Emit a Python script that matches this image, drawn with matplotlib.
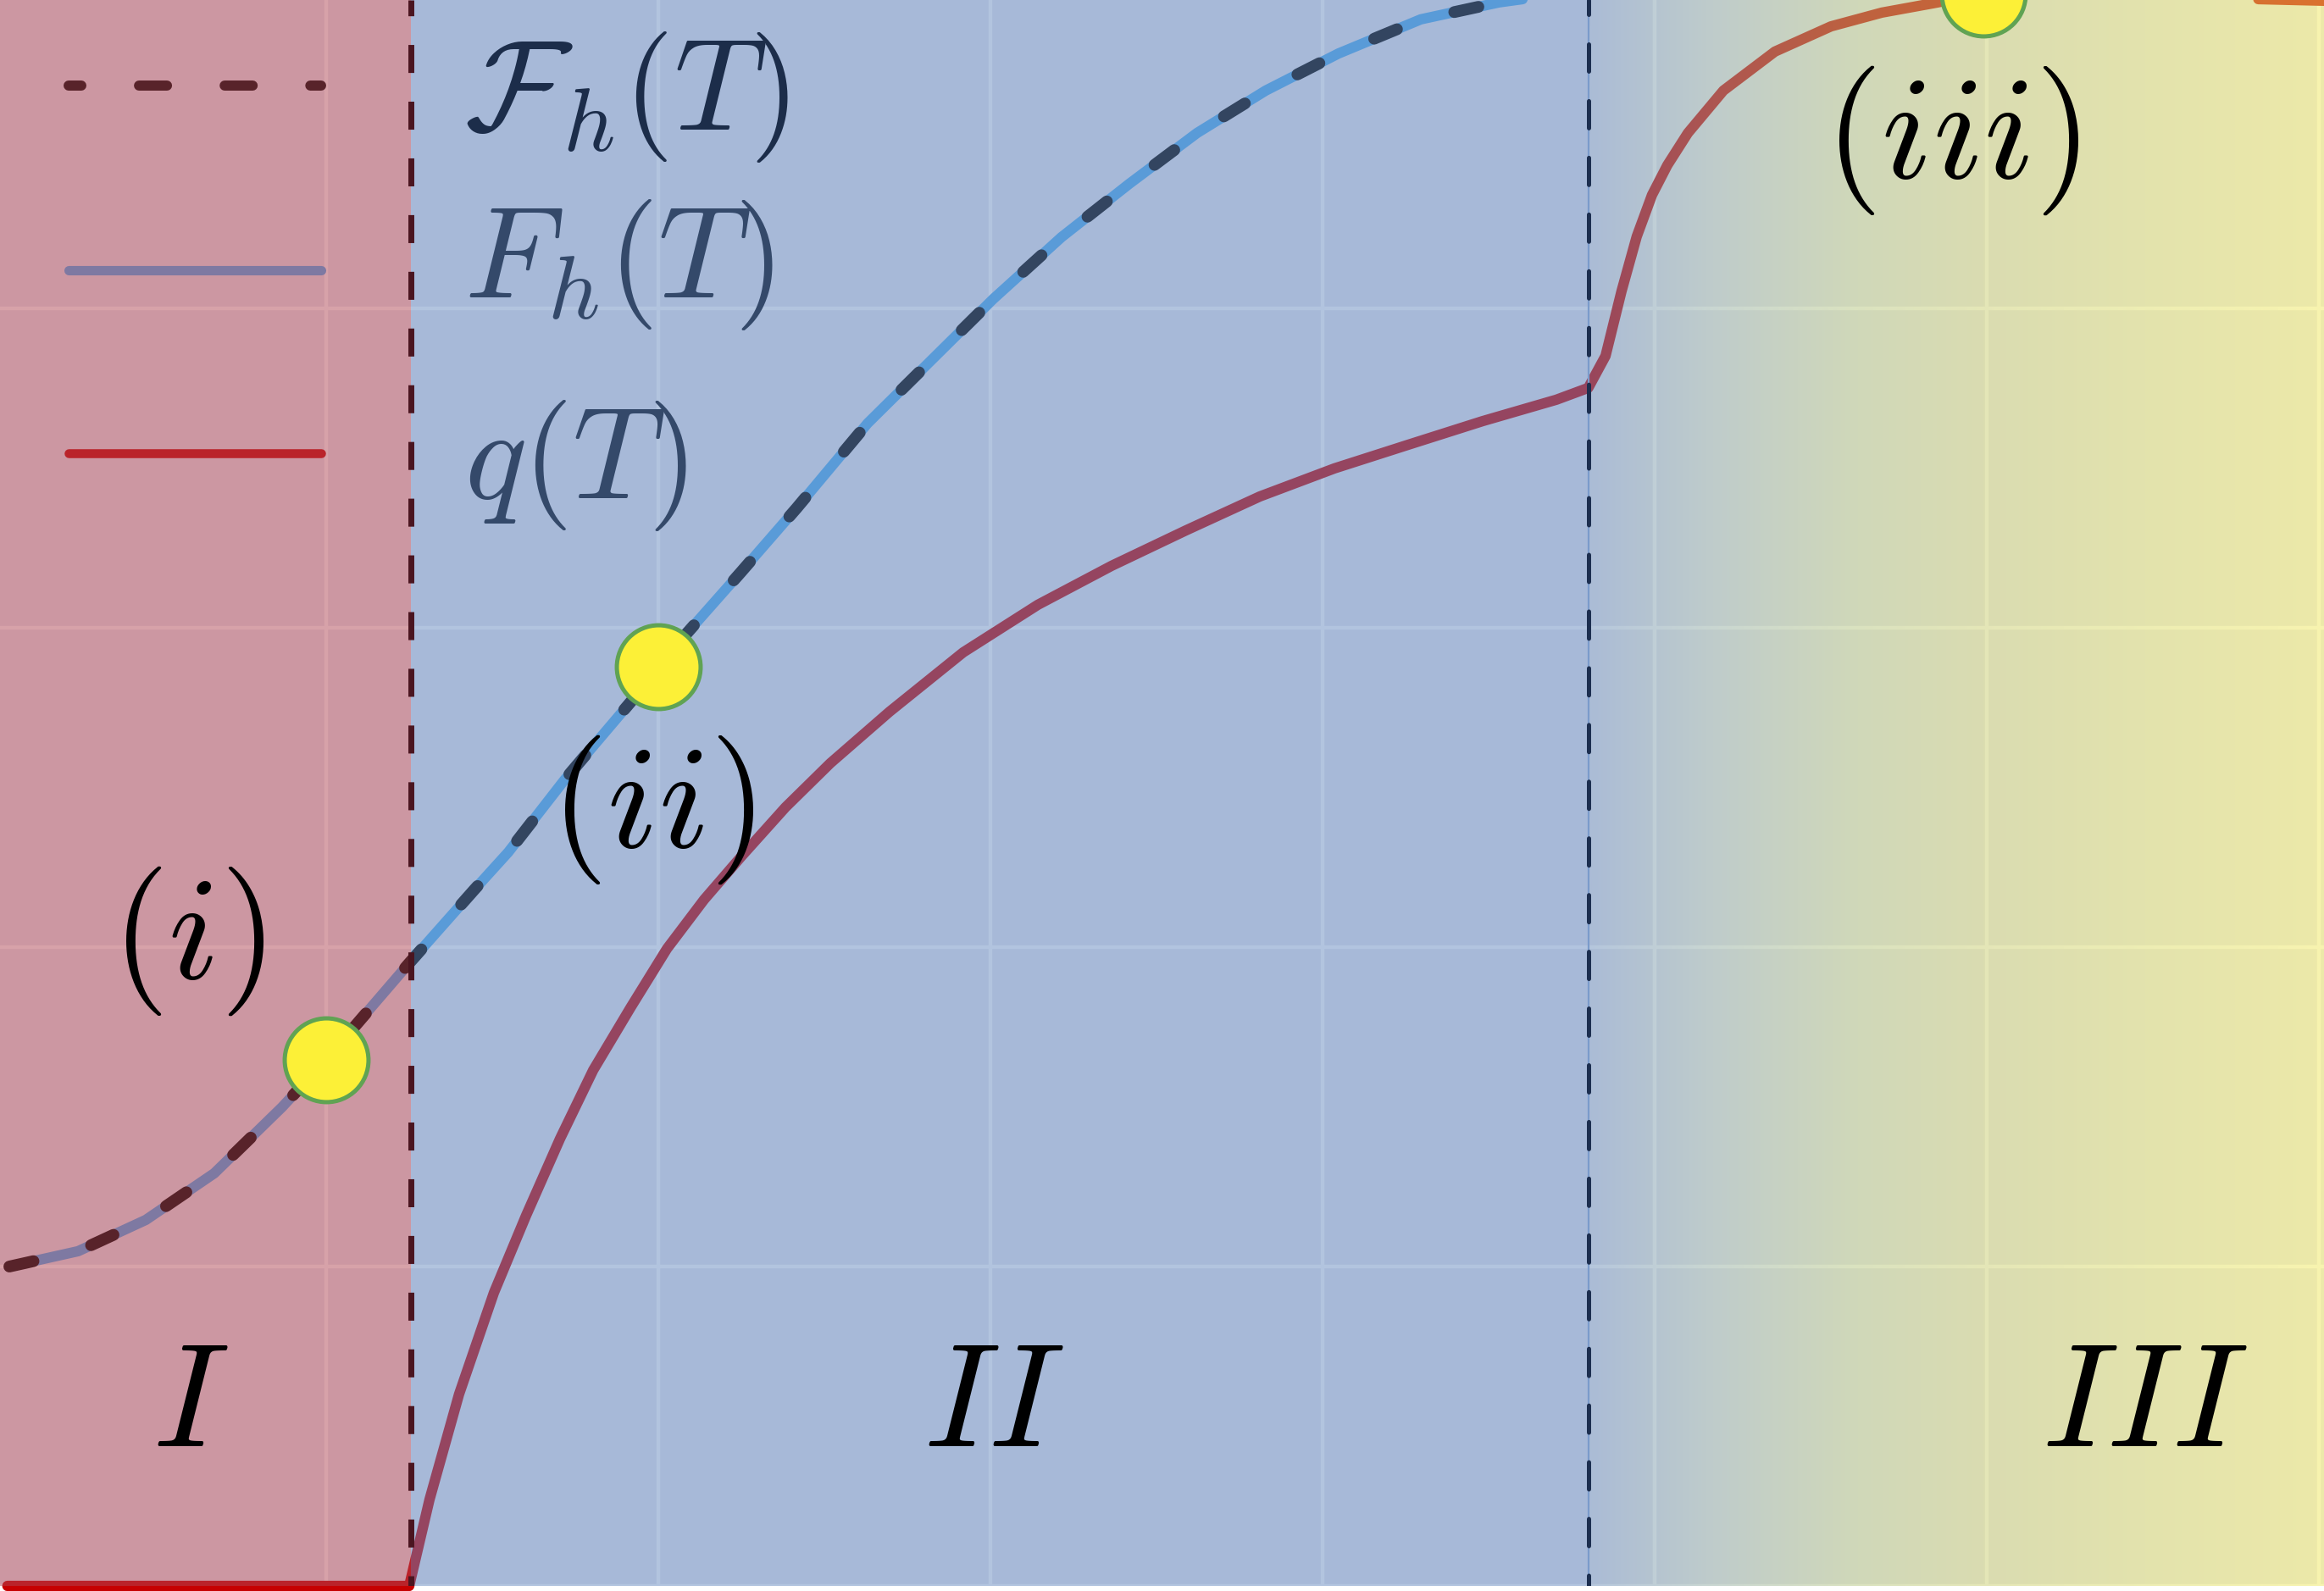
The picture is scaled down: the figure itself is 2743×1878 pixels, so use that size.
import numpy as np
import matplotlib
matplotlib.use("Agg")
import matplotlib.pyplot as plt
from matplotlib.colors import LinearSegmentedColormap

plt.rcParams['mathtext.fontset'] = 'cm'
plt.rcParams['lines.scale_dashes'] = False

# ---------------- data ----------------
F_T = [0.046, 0.253, 0.457, 0.663, 0.867, 1.0, 1.25, 1.446, 1.548, 1.717, 1.918,
       2.087, 2.247, 2.416, 2.63, 3.008, 3.214, 3.418, 3.622, 3.829, 4.048, 4.296,
       4.531, 4.65, 4.80]
F_val = [1.0, 1.048, 1.146, 1.292, 1.499, 1.648, 1.95, 2.18, 2.297, 2.523, 2.769,
         2.984, 3.172, 3.374, 3.64, 4.029, 4.223, 4.39, 4.549, 4.682, 4.798, 4.905,
         4.958, 4.975, 4.995]

q_T = [0.04, 1.25, 1.311, 1.40, 1.505, 1.602, 1.704, 1.804, 1.916, 2.026, 2.138,
       2.25, 2.383, 2.518, 2.696, 2.918, 3.143, 3.365, 3.589, 3.811, 4.036, 4.258,
       4.482, 4.704, 4.80, 4.852, 4.90, 4.946, 4.992, 5.038, 5.10, 5.207, 5.362,
       5.531, 5.684, 5.837, 5.99, 6.27, 6.55, 7.02]
q_val = [0.0, 0.0, 0.27, 0.60, 0.918, 1.16, 1.40, 1.615, 1.81, 1.995, 2.149,
         2.284, 2.438, 2.576, 2.737, 2.923, 3.072, 3.194, 3.305, 3.411, 3.499, 3.573,
         3.647, 3.714, 3.751, 3.851, 4.053, 4.225, 4.355, 4.448, 4.549, 4.682, 4.804,
         4.883, 4.926, 4.955, 4.985, 4.997, 4.975, 4.963]

point_T = [1.0, 2.0, 5.99]
point_val = [1.648, 2.879, 4.985]
point_labels = [r'$(i)$', r'$(ii)$', r'$(iii)$']
point_label_T = [0.584, 1.982, 5.895]
point_label_val = [2.019, 2.43, 4.527]

region_bounds = [1.255, 4.80]
region_labels = [r'$I$', r'$II$', r'$III$']
region_label_T = [0.59, 3.01, 6.475]
region_label_val = 0.565

legend_labels = [r'$\mathcal{F}_h(T)$', r'$F_h(T)$', r'$q(T)$']

# ---------------- figure ----------------
W, H = 2743, 1878
dpi = 200
fig = plt.figure(figsize=(W / dpi, H / dpi), dpi=dpi, facecolor='white')
ax = fig.add_axes([0, 6 / H, 1, 1 - 6 / H])
ax.set_facecolor('#eaeaf2')
xlim = (7 / 392, 2750 / 392)
ylim = (0, 1872 / 377)

# curves (drawn beneath the translucent region overlays)
ax.plot(F_T, F_val, color='#4dadf2', lw=4.4, solid_capstyle='round',
        solid_joinstyle='round', zorder=1)
ax.plot(F_T, F_val, color='black', lw=5.0, linestyle=(0, (10.5, 25.5)),
        dash_capstyle='round', dash_joinstyle='round', zorder=1.1)
ax.plot(q_T, q_val, color='#c60000', lw=4.4, solid_capstyle='round',
        solid_joinstyle='round', zorder=1.2, clip_on=False)

# legend handles (axes coordinates)
def ax_y(py):
    return (1872 - py) / 1872

hx = [81 / W, 379 / W]
ax.plot(hx, [ax_y(101)] * 2, transform=ax.transAxes, color='black', lw=4.3,
        linestyle=(6.5, (11.9, 24.5)), dash_capstyle='round', zorder=1, clip_on=False)
ax.plot(hx, [ax_y(319)] * 2, transform=ax.transAxes, color='#4dadf2', lw=4.0,
        solid_capstyle='round', zorder=1)
ax.plot(hx, [ax_y(535)] * 2, transform=ax.transAxes, color='#c60000', lw=3.8,
        solid_capstyle='round', zorder=1)

# region overlays
ax.axvspan(xlim[0] - 1, region_bounds[0], color=(176 / 255, 70 / 255, 84 / 255),
           alpha=0.5, lw=0, zorder=2)
ax.axvspan(region_bounds[0], region_bounds[1], color=(102 / 255, 138 / 255, 192 / 255),
           alpha=0.5, lw=0, zorder=2)
stops = [(0.0, (108, 142, 186)), (0.168, (148, 174, 164)), (0.365, (182, 198, 128)),
         (0.536, (202, 206, 112)), (0.758, (220, 220, 104)), (1.0, (240, 232, 96))]
cmap = LinearSegmentedColormap.from_list(
    'reg3', [(t, tuple(c / 255 for c in col)) for t, col in stops])
ax.imshow(np.linspace(0, 1, 600)[None, :], extent=[region_bounds[1], xlim[1],
          ylim[0] - 0.2, ylim[1] + 0.2], aspect='auto', cmap=cmap, alpha=0.5,
          interpolation='bilinear', zorder=2)

# region boundaries
ax.axvline(region_bounds[0], color='#4a1520', lw=2.5,
           linestyle=(7.6, (11.9, 12.2)), zorder=3)
ax.axvline(region_bounds[1], color='#7b9bcb', lw=0.8, zorder=3)
ax.axvline(region_bounds[1], color='#1c2e4f', lw=1.8,
           linestyle=(7.0, (11.5, 12.6)), dash_capstyle='round', zorder=3.1)

# highlighted points
ax.plot(point_T, point_val, ls='none', marker='o', ms=35.6, mfc='#fcf037',
        mec='#60a353', mew=1.8, zorder=4, clip_on=False)

for s, x, y in zip(point_labels, point_label_T, point_label_val):
    ax.text(x, y, s, fontsize=63, ha='center', va='center', color='black', zorder=5)
for s, x in zip(region_labels, region_label_T):
    ax.text(x, region_label_val, s, fontsize=63, ha='center', va='center',
            color='black', zorder=5)

# legend labels
label_py = [115, 313, 550]
label_colors = ['#1c2d4a', '#34496a', '#34496a']
for s, py, c in zip(legend_labels, label_py, label_colors):
    ax.text(548 / W, ax_y(py), s, transform=ax.transAxes, fontsize=55,
            ha='left', va='center', color=c, zorder=5)

# grid & axes styling
ax.set_xticks(range(0, 8))
ax.set_yticks(range(0, 6))
ax.grid(True, color='white', lw=1.6)
ax.set_axisbelow(True)
ax.tick_params(length=0, labelbottom=False, labelleft=False)
for sp in ax.spines.values():
    sp.set_visible(False)
ax.set_xlim(*xlim)
ax.set_ylim(*ylim)

fig.savefig('out.png', dpi=dpi, facecolor='white')
